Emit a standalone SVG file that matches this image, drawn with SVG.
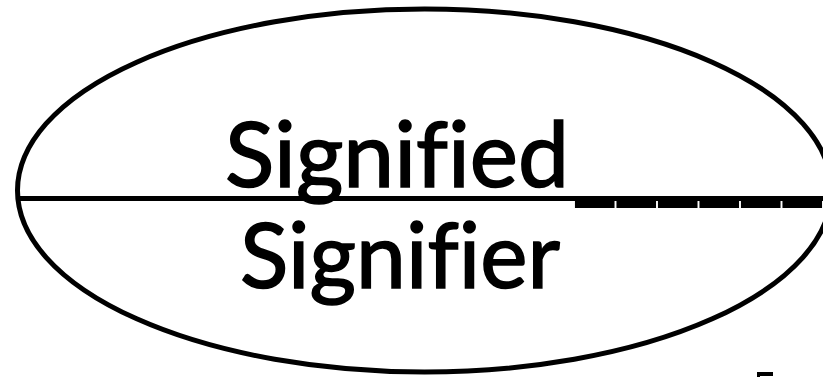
<svg xmlns="http://www.w3.org/2000/svg" width="823" height="377" viewBox="0 0 823 377">
<style>
.stroke{fill:none;stroke:#000;stroke-width:5}
.lbl{font-family:Lato,"Liberation Sans",sans-serif;font-size:91px;fill:#000;stroke:#000;stroke-width:1.6;font-variant-ligatures:none}
.us{stroke-width:4}
</style>
<rect width="823" height="377" fill="#fff"/>
<g id="sign">
<ellipse class="stroke" cx="424.5" cy="190.5" rx="407" ry="181.5"/>
</g>
<g id="connectors">
<line class="stroke" x1="18" y1="198.5" x2="823" y2="198.5"/>
</g>
<g id="signified">
<text class="lbl" y="187"><tspan x="225" textLength="344" lengthAdjust="spacingAndGlyphs">Signified</tspan><tspan class="us" x="574" dy="6" textLength="249" lengthAdjust="spacingAndGlyphs">______</tspan></text>
</g>
<g id="signifier">
<text class="lbl" x="240" y="288" textLength="320" lengthAdjust="spacingAndGlyphs">Signifier</text>
</g>
<g id="mark">
<path d="M757 377V372H773V376H760V377Z" fill="#000"/>
</g>
</svg>
